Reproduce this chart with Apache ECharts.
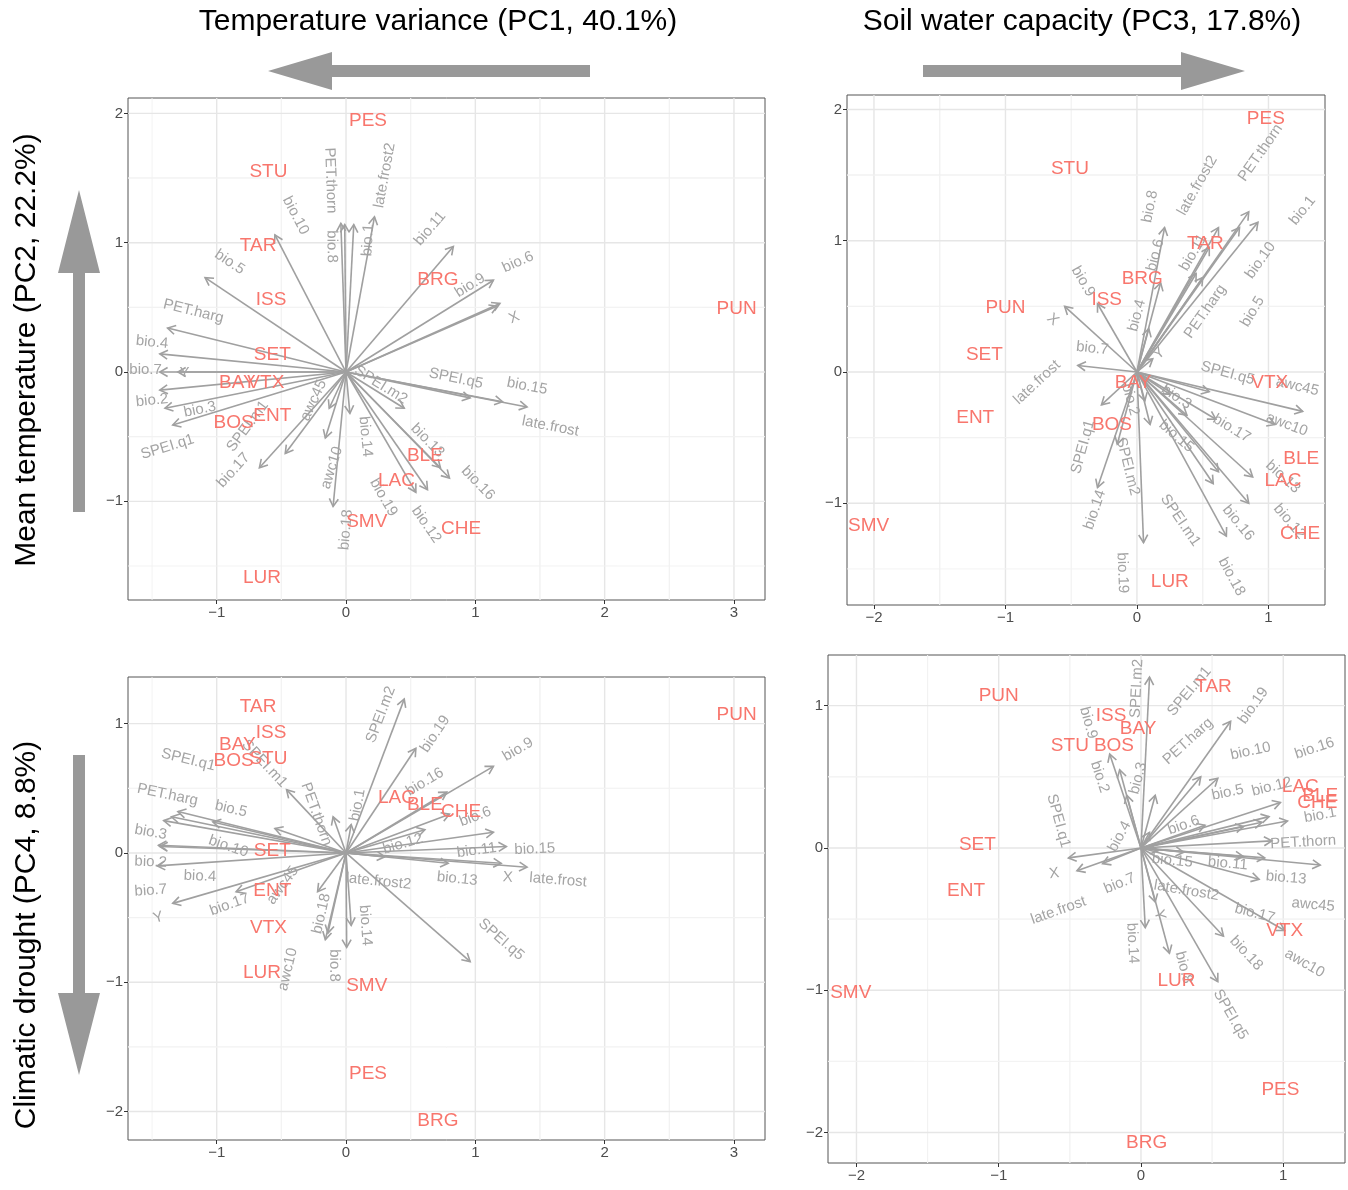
<!DOCTYPE html>
<html lang="en">

<head>
    <meta charset="UTF-8">
    <title>PCA biplots</title>
    <script src="https://cdn.jsdelivr.net/npm/echarts@6/dist/echarts.min.js"></script>
    <style>
        html, body { margin: 0; padding: 0; background: #fff; }
        #chart { width: 1348px; height: 1190px; }
    </style>
</head>

<body onload="setup()">
    <div id="chart"></div>
    <script>
        // tick labels for each component axis
        var ticksPC1 = [-1, 0, 1, 2, 3]
        var ticksPC2 = [-1, 0, 1, 2]
        var ticksPC3 = [-2, -1, 0, 1]
        var ticksPC4 = [-2, -1, 0, 1]

        // site scores: [site, x, y]
        var sitesPC1PC2 = [
            ['PES', 0.17, 1.94], ['STU', -0.60, 1.55], ['TAR', -0.68, 0.98], ['ISS', -0.58, 0.56],
            ['SET', -0.57, 0.13], ['BAY', -0.84, -0.08], ['VTX', -0.62, -0.08], ['BOS', -0.87, -0.39],
            ['ENT', -0.57, -0.34], ['BRG', 0.71, 0.71], ['PUN', 3.02, 0.49], ['BLE', 0.61, -0.65],
            ['LAC', 0.39, -0.84], ['SMV', 0.16, -1.16], ['CHE', 0.89, -1.21], ['LUR', -0.65, -1.59]
        ]
        var sitesPC3PC2 = [
            ['PES', 0.98, 1.93], ['STU', -0.51, 1.55], ['TAR', 0.52, 0.98], ['BRG', 0.04, 0.71],
            ['ISS', -0.23, 0.55], ['PUN', -1.00, 0.49], ['SET', -1.16, 0.13], ['ENT', -1.23, -0.35],
            ['BAY', -0.03, -0.08], ['VTX', 1.01, -0.08], ['BOS', -0.19, -0.40], ['BLE', 1.25, -0.66],
            ['LAC', 1.11, -0.83], ['CHE', 1.24, -1.23], ['SMV', -2.04, -1.17], ['LUR', 0.25, -1.60]
        ]
        var sitesPC1PC4 = [
            ['TAR', -0.68, 1.13], ['ISS', -0.58, 0.93], ['BAY', -0.84, 0.84], ['BOS', -0.87, 0.71],
            ['STU', -0.60, 0.73], ['SET', -0.57, 0.02], ['ENT', -0.57, -0.29], ['VTX', -0.60, -0.58],
            ['LUR', -0.65, -0.93], ['SMV', 0.16, -1.03], ['PES', 0.17, -1.71], ['BRG', 0.71, -2.07],
            ['PUN', 3.02, 1.07], ['LAC', 0.39, 0.43], ['BLE', 0.61, 0.37], ['CHE', 0.89, 0.32]
        ]
        var sitesPC3PC4 = [
            ['PUN', -1.00, 1.07], ['TAR', 0.51, 1.13], ['ISS', -0.21, 0.93], ['BAY', -0.02, 0.84],
            ['STU', -0.50, 0.72], ['BOS', -0.19, 0.72], ['SET', -1.15, 0.02], ['ENT', -1.23, -0.30],
            ['SMV', -2.04, -1.02], ['LAC', 1.12, 0.43], ['BLE', 1.26, 0.37], ['CHE', 1.24, 0.32],
            ['VTX', 1.01, -0.58], ['LUR', 0.25, -0.93], ['PES', 0.98, -1.70], ['BRG', 0.04, -2.07]
        ]

        // variable loadings: [variable, tipX, tipY, labelX, labelY]
        var varsPC1PC2 = [
            ['bio.1', 0.06, 1.14, 0.17, 1.02], ['bio.2', -1.44, -0.14, -1.50, -0.22],
            ['bio.3', -1.40, -0.28, -1.13, -0.29], ['bio.4', -1.44, 0.14, -1.50, 0.23],
            ['bio.5', -1.09, 0.73, -0.90, 0.85], ['bio.6', 1.19, 0.53, 1.33, 0.85],
            ['bio.7', -1.44, 0.0, -1.55, 0.02], ['bio.8', -0.01, 1.14, -0.11, 0.97],
            ['bio.9', 1.14, 0.71, 0.96, 0.67], ['bio.10', -0.55, 1.06, -0.39, 1.21],
            ['bio.11', 0.83, 0.97, 0.65, 1.11], ['bio.12', 0.63, -0.91, 0.62, -1.18],
            ['bio.13', 0.73, -0.74, 0.63, -0.53], ['bio.14', 0.03, -0.32, 0.15, -0.50],
            ['bio.15', 1.21, -0.23, 1.40, -0.11], ['bio.16', 0.80, -0.82, 1.02, -0.86],
            ['bio.17', -0.67, -0.74, -0.87, -0.76], ['bio.18', -0.10, -1.04, 0.0, -1.22],
            ['bio.19', 0.54, -0.93, 0.29, -0.97], ['PET.harg', -1.38, 0.34, -1.18, 0.47],
            ['PET.thorn', -0.04, 1.15, -0.12, 1.48], ['late.frost', 1.40, -0.27, 1.58, -0.42],
            ['late.frost2', 0.22, 1.20, 0.30, 1.52], ['SPEI.q1', -1.34, -0.41, -1.38, -0.58],
            ['SPEI.q5', 0.96, -0.20, 0.85, -0.05], ['SPEI.m1', -0.47, -0.63, -0.76, -0.42],
            ['SPEI.m2', 0.45, -0.28, 0.27, -0.10], ['awc10', -0.16, -0.51, -0.11, -0.74],
            ['awc45', -0.13, -0.28, -0.25, -0.22], ['X', 1.17, 0.51, 1.30, 0.42],
            ['Y', -1.30, 0.0, -1.25, -0.01]
        ]
        var varsPC3PC2 = [
            ['bio.1', 0.92, 1.14, 1.26, 1.23], ['bio.2', 0.06, -0.22, -0.05, -0.21],
            ['bio.3', 0.25, -0.17, 0.30, -0.19], ['bio.4', 0.09, 0.33, 0.0, 0.43],
            ['bio.5', 0.45, 0.75, 0.88, 0.46], ['bio.6', 0.18, 0.68, 0.14, 0.89],
            ['bio.7', -0.45, 0.05, -0.34, 0.18], ['bio.8', 0.21, 1.10, 0.10, 1.26],
            ['bio.9', -0.30, 0.52, -0.41, 0.69], ['bio.10', 0.78, 1.10, 0.94, 0.85],
            ['bio.11', 0.55, 0.95, 0.43, 0.91], ['bio.12', 0.85, -1.00, 1.16, -1.14],
            ['bio.13', 0.88, -0.80, 1.11, -0.80], ['bio.14', -0.30, -0.88, -0.32, -1.05],
            ['bio.15', 0.38, -0.33, 0.30, -0.49], ['bio.16', 0.62, -0.76, 0.77, -1.15],
            ['bio.17', 0.60, -0.36, 0.72, -0.43], ['bio.18', 0.68, -1.25, 0.72, -1.56],
            ['bio.19', 0.05, -1.30, -0.11, -1.53], ['PET.harg', 0.50, 0.72, 0.52, 0.46],
            ['PET.thorn', 0.85, 1.22, 0.94, 1.67], ['late.frost', -0.27, -0.25, -0.76, -0.08],
            ['late.frost2', 0.62, 1.10, 0.46, 1.42], ['SPEI.q1', -0.15, -0.55, -0.41, -0.57],
            ['SPEI.q5', 0.55, -0.15, 0.69, -0.01], ['SPEI.m1', 0.58, -0.85, 0.33, -1.13],
            ['SPEI.m2', 0.10, -0.40, -0.07, -0.72], ['awc10', 1.05, -0.40, 1.14, -0.40],
            ['awc45', 1.26, -0.30, 1.22, -0.11], ['X', -0.55, 0.50, -0.64, 0.40],
            ['Y', 0.12, 0.10, 0.17, 0.14]
        ]
        var varsPC1PC4 = [
            ['bio.1', 0.04, 0.22, 0.09, 0.37], ['bio.2', -1.44, 0.05, -1.51, -0.07],
            ['bio.3', -1.41, 0.25, -1.51, 0.16], ['bio.4', -1.45, 0.06, -1.13, -0.18],
            ['bio.5', -1.03, 0.24, -0.89, 0.34], ['bio.6', 0.80, 0.30, 1.00, 0.28],
            ['bio.7', -1.46, -0.10, -1.51, -0.29], ['bio.8', 0.005, -0.73, -0.09, -0.87],
            ['bio.9', 1.14, 0.67, 1.33, 0.80], ['bio.10', -0.55, 0.19, -0.91, 0.05],
            ['bio.11', 1.14, 0.16, 1.01, 0.02], ['bio.12', 0.61, 0.18, 0.44, 0.07],
            ['bio.13', 0.79, -0.08, 0.86, -0.20], ['bio.14', 0.04, -0.56, 0.15, -0.56],
            ['bio.15', 1.24, 0.05, 1.46, 0.03], ['bio.16', 0.78, 0.47, 0.61, 0.55],
            ['bio.17', -0.85, -0.30, -0.90, -0.40], ['bio.18', -0.14, -0.62, -0.19, -0.47],
            ['bio.19', 0.54, 0.81, 0.69, 0.92], ['PET.harg', -1.35, 0.28, -1.38, 0.45],
            ['PET.thorn', -0.10, 0.28, -0.23, 0.30], ['late.frost', 1.40, -0.11, 1.64, -0.21],
            ['late.frost2', 0.30, -0.03, 0.25, -0.22], ['SPEI.q1', -1.30, 0.32, -1.22, 0.72],
            ['SPEI.q5', 0.96, -0.84, 1.20, -0.67], ['SPEI.m1', -0.46, 0.49, -0.63, 0.69],
            ['SPEI.m2', 0.45, 1.19, 0.27, 1.07], ['awc10', -0.16, -0.67, -0.45, -0.90],
            ['awc45', -0.22, -0.30, -0.49, -0.25], ['X', 1.20, -0.08, 1.25, -0.19],
            ['Y', -1.34, -0.39, -1.45, -0.50]
        ]
        var varsPC3PC4 = [
            ['bio.1', 1.03, 0.19, 1.26, 0.23], ['bio.2', -0.22, 0.66, -0.29, 0.50],
            ['bio.3', 0.10, 0.37, -0.02, 0.49], ['bio.4', 0.06, 0.11, -0.15, 0.08],
            ['bio.5', 0.72, 0.15, 0.61, 0.39], ['bio.6', 0.45, 0.16, 0.30, 0.16],
            ['bio.7', -0.27, -0.11, -0.15, -0.25], ['bio.8', 0.20, -0.74, 0.30, -0.84],
            ['bio.9', -0.15, 0.55, -0.37, 0.88], ['bio.10', 0.85, 0.18, 0.77, 0.68],
            ['bio.11', 0.72, -0.06, 0.61, -0.11], ['bio.12', 0.90, 0.22, 0.92, 0.43],
            ['bio.13', 0.87, -0.07, 1.02, -0.21], ['bio.14', 0.03, -0.56, -0.06, -0.67],
            ['bio.15', 0.30, -0.03, 0.22, -0.09], ['bio.16', 0.98, 0.32, 1.22, 0.70],
            ['bio.17', 0.83, -0.22, 0.80, -0.46], ['bio.18', 0.58, -0.62, 0.74, -0.74],
            ['bio.19', 0.63, 0.89, 0.79, 1.00], ['PET.harg', 0.54, 0.49, 0.33, 0.75],
            ['PET.thorn', 0.92, 0.05, 1.14, 0.04], ['late.frost', -0.45, -0.16, -0.58, -0.44],
            ['late.frost2', 0.12, -0.02, 0.32, -0.30], ['SPEI.q1', -0.10, 0.37, -0.58, 0.19],
            ['SPEI.q5', 0.54, -0.94, 0.63, -1.17], ['SPEI.m1', 0.42, 0.50, 0.34, 1.10],
            ['SPEI.m2', 0.06, 1.20, -0.03, 1.12], ['awc10', 1.01, -0.58, 1.15, -0.81],
            ['awc45', 1.26, -0.12, 1.21, -0.40], ['X', -0.51, -0.07, -0.61, -0.18],
            ['Y', 0.10, -0.38, 0.13, -0.47]
        ]

        var FONT = '"Liberation Sans", Arial, sans-serif'
        var SITE_COLOR = '#F8766D'
        var VAR_COLOR = '#a0a0a0'

        // layout of the 4 panels (pixels) and the visible axis ranges
        var panels = [
            { left: 128, top: 98, width: 637, height: 502, xr: [-1.686, 3.24], yr: [-1.763, 2.119], xt: ticksPC1, yt: ticksPC2, sites: sitesPC1PC2, vars: varsPC1PC2 },
            { left: 847, top: 95, width: 478, height: 510, xr: [-2.205, 1.43], yr: [-1.775, 2.11], xt: ticksPC3, yt: ticksPC2, sites: sitesPC3PC2, vars: varsPC3PC2 },
            { left: 128, top: 677, width: 637, height: 463, xr: [-1.686, 3.24], yr: [-2.22, 1.361], xt: ticksPC1, yt: ticksPC4, sites: sitesPC1PC4, vars: varsPC1PC4 },
            { left: 828, top: 655, width: 517, height: 508, xr: [-2.2, 1.434], yr: [-2.214, 1.356], xt: ticksPC3, yt: ticksPC4, sites: sitesPC3PC4, vars: varsPC3PC4 }
        ]

        var chart

        function setup() {
            chart = echarts.init(document.getElementById('chart'))
            chart.setOption(buildOption(), true)
        }

        function tickFmt(v) {
            if (Math.abs(v - Math.round(v)) > 1e-6) return ''
            return String(Math.round(v)).replace('-', '\u2212')
        }

        function axisDef(i, range, ticks) {
            return {
                gridIndex: i,
                type: 'value',
                min: range[0],
                max: range[1],
                splitLine: { show: false },
                axisLine: { show: false, onZero: false },
                axisTick: { show: true, length: 4, inside: false, lineStyle: { color: '#333', width: 1 }, customValues: ticks },
                axisLabel: { color: '#4d4d4d', fontSize: 15, fontFamily: FONT, margin: 5, formatter: tickFmt, customValues: ticks }
            }
        }

        // grid lines at ticks and half ticks
        function gridData(p) {
            var out = []
            p.xt.forEach(function (t) {
                out.push([t, 0, 1])
                if (t - 0.5 > p.xr[0]) out.push([t - 0.5, 0, 0])
                if (t + 0.5 < p.xr[1]) out.push([t + 0.5, 0, 0])
            })
            p.yt.forEach(function (t) {
                out.push([t, 1, 1])
                if (t - 0.5 > p.yr[0]) out.push([t - 0.5, 1, 0])
                if (t + 0.5 < p.yr[1]) out.push([t + 0.5, 1, 0])
            })
            return out
        }

        function renderGrid(p) {
            return function (params, api) {
                var v = api.value(0), dir = api.value(1), major = api.value(2)
                var a, b
                if (dir == 0) { a = api.coord([v, p.yr[0]]); b = api.coord([v, p.yr[1]]) }
                else { a = api.coord([p.xr[0], v]); b = api.coord([p.xr[1], v]) }
                return {
                    type: 'line', silent: true,
                    shape: { x1: a[0], y1: a[1], x2: b[0], y2: b[1] },
                    style: { stroke: major ? '#e6e6e6' : '#f2f2f2', lineWidth: major ? 1.4 : 0.9 }
                }
            }
        }

        function renderArrow(p) {
            return function (params, api) {
                var name = p.vars[params.dataIndex][0]
                var o = api.coord([0, 0])
                var t = api.coord([api.value(0), api.value(1)])
                var l = api.coord([api.value(2), api.value(3)])
                var dx = t[0] - o[0], dy = t[1] - o[1]
                var a = Math.atan2(dy, dx)
                var h = 9, sp = Math.PI / 6
                var head = [
                    [t[0] - h * Math.cos(a - sp), t[1] - h * Math.sin(a - sp)],
                    [t[0], t[1]],
                    [t[0] - h * Math.cos(a + sp), t[1] - h * Math.sin(a + sp)]
                ]
                var rot = dx === 0 ? Math.PI / 2 : Math.atan(-dy / dx)
                return {
                    type: 'group',
                    children: [
                        { type: 'line', shape: { x1: o[0], y1: o[1], x2: t[0], y2: t[1] }, style: { stroke: VAR_COLOR, lineWidth: 1.6 } },
                        { type: 'polyline', shape: { points: head }, style: { stroke: VAR_COLOR, lineWidth: 1.6, fill: null } },
                        {
                            type: 'text', x: l[0], y: l[1], rotation: rot,
                            style: { text: name, fill: '#a4a4a4', font: '15px ' + FONT, align: 'center', verticalAlign: 'middle', textAlign: 'center', textVerticalAlign: 'middle' }
                        }
                    ]
                }
            }
        }

        function renderSite(p) {
            return function (params, api) {
                var c = api.coord([api.value(0), api.value(1)])
                return {
                    type: 'text', x: c[0], y: c[1],
                    style: { text: p.sites[params.dataIndex][0], fill: SITE_COLOR, font: '19px ' + FONT, align: 'center', verticalAlign: 'middle', textAlign: 'center', textVerticalAlign: 'middle' }
                }
            }
        }

        function buildOption() {
            var grids = [], xAxes = [], yAxes = [], series = []
            panels.forEach(function (p, i) {
                grids.push({ left: p.left, top: p.top, width: p.width, height: p.height, show: true, borderColor: '#555', borderWidth: 1, backgroundColor: '#fff' })
                xAxes.push(axisDef(i, p.xr, p.xt))
                yAxes.push(axisDef(i, p.yr, p.yt))
                series.push({
                    type: 'custom', xAxisIndex: i, yAxisIndex: i, z: 1, silent: true,
                    renderItem: renderGrid(p), data: gridData(p)
                })
                series.push({
                    type: 'custom', xAxisIndex: i, yAxisIndex: i, z: 2, silent: true,
                    renderItem: renderArrow(p),
                    data: p.vars.map(function (v) { return { name: v[0], value: [v[1], v[2], v[3], v[4]] } })
                })
                series.push({
                    type: 'custom', xAxisIndex: i, yAxisIndex: i, z: 3, silent: true,
                    renderItem: renderSite(p),
                    data: p.sites.map(function (s) { return { name: s[0], value: [s[1], s[2]] } })
                })
            })

            var bigArrow = { fill: '#999999' }
            var titleFont = '30px ' + FONT
            var graphic = [
                { type: 'text', x: 438, y: 22, style: { text: 'Temperature variance (PC1, 40.1%)', font: titleFont, fill: '#000', align: 'center', verticalAlign: 'middle' } },
                { type: 'text', x: 1082, y: 22, style: { text: 'Soil water capacity (PC3, 17.8%)', font: titleFont, fill: '#000', align: 'center', verticalAlign: 'middle' } },
                { type: 'text', x: 27, y: 350, rotation: Math.PI / 2, style: { text: 'Mean temperature (PC2, 22.2%)', font: titleFont, fill: '#000', align: 'center', verticalAlign: 'middle' } },
                { type: 'text', x: 27, y: 935, rotation: Math.PI / 2, style: { text: 'Climatic drought (PC4, 8.8%)', font: titleFont, fill: '#000', align: 'center', verticalAlign: 'middle' } },
                { type: 'polygon', shape: { points: [[268, 71], [332, 52], [332, 65], [590, 65], [590, 77], [332, 77], [332, 90]] }, style: bigArrow },
                { type: 'polygon', shape: { points: [[1245, 71], [1181, 52], [1181, 65], [923, 65], [923, 77], [1181, 77], [1181, 90]] }, style: bigArrow },
                { type: 'polygon', shape: { points: [[79, 190], [58, 273], [73, 273], [73, 512], [85, 512], [85, 273], [100, 273]] }, style: bigArrow },
                { type: 'polygon', shape: { points: [[79, 1075], [58, 993], [73, 993], [73, 755], [85, 755], [85, 993], [100, 993]] }, style: bigArrow }
            ]

            return {
                backgroundColor: '#fff',
                animation: false,
                grid: grids,
                xAxis: xAxes,
                yAxis: yAxes,
                series: series,
                graphic: graphic
            }
        }
    </script>
</body>

</html>
